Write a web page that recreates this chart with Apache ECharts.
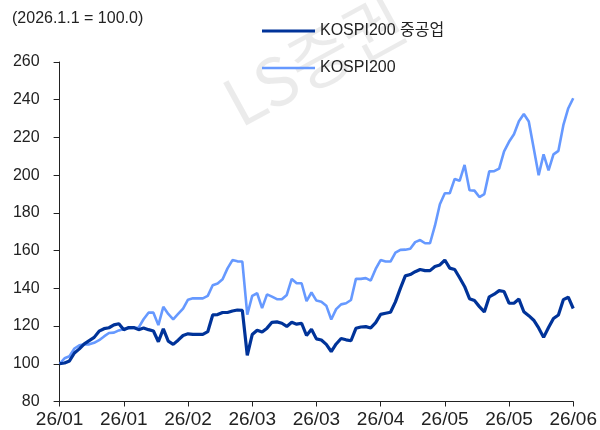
<!DOCTYPE html>
<html>
<head>
<meta charset="utf-8">
<script src="https://cdn.jsdelivr.net/npm/echarts@6/dist/echarts.min.js"></script>
<style>
  html, body { margin: 0; padding: 0; background: #ffffff; }
  #main { width: 600px; height: 430px; }
</style>
</head>
<body>
<div id="main"></div>
<script>
// x축 라벨 (13거래일 간격)
var xLabels = ['26/01', '26/01', '26/02', '26/03', '26/03', '26/04', '26/05', '26/05', '26/06'];
var labelStep = 13;

// KOSPI200 중공업 (2026.1.1 = 100)
var heavyInd = [
  100, 100.4, 101.5, 105.7, 107.9, 110.6, 112.3, 114, 117.3, 118.6,
  119.1, 120.6, 121.2, 118, 119.2, 119.2, 118.1, 119, 118.1, 117.4,
  111.7, 118.5, 112, 110.3, 112.5, 115, 115.9, 115.6, 115.6, 115.6,
  117, 125.9, 126.1, 127.2, 127.2, 128, 128.5, 128.3, 104.5, 115.5,
  117.8, 116.8, 118.9, 122, 122.2, 121.5, 119.8, 122, 121, 121.5,
  115, 118.3, 113.2, 112.6, 110.3, 106.5, 110.5, 113.4, 112.7, 112.2,
  118.8, 119.5, 119.7, 119, 121.8, 126.2, 126.8, 127.3, 132.8, 140,
  146.6, 147.3, 148.8, 150, 149.4, 149.4, 151.6, 152.4, 155, 150.7,
  150, 145.6, 141, 134.5, 133.5, 130.3, 127.5, 135.5, 136.9, 138.8,
  138.3, 132.1, 132.1, 134.3, 127.6, 125.5, 123.1, 119, 114, 119.2,
  124, 125.9, 134, 135.3, 129.3
];

// KOSPI200
var kospi200 = [
  100, 102.9, 104, 108.1, 109.8, 110.3, 110.3, 111.1, 112.5, 114.5,
  116.3, 116.5, 117.7, 118.5, 118.9, 119, 119.2, 123.6, 127.1, 127.1,
  120.5, 130.2, 126.4, 123.6, 126.5, 129.3, 134, 134.7, 134.7, 134.7,
  136, 141.6, 142.6, 144.8, 150.6, 155, 154.3, 154.2, 126, 136,
  137.4, 129.5, 136.8, 135.6, 134.3, 134.2, 136.5, 145, 142.7, 142.7,
  133.2, 137.8, 133.5, 132.9, 130.8, 123.5, 129, 131.5, 132.1, 133.8,
  145, 145, 145.4, 144.1, 150.3, 155, 154.2, 154.2, 158.9, 160.4,
  160.5, 161, 164.5, 165.6, 163.9, 163.9, 173.2, 184.6, 190.4, 190.4,
  198, 197, 205.4, 192, 191.8, 188.4, 190, 202, 202.1, 203.5,
  212.6, 217.7, 221.7, 228.6, 232.4, 228.5, 214.3, 200, 211, 202.6,
  211, 212.9, 226.5, 235.5, 240.8
];

var days = heavyInd.map(function (v, i) { return i; });

var chartDom = document.getElementById('main');
var myChart = echarts.init(chartDom, null, { renderer: 'canvas' });
var option;

var baseFont = "'Liberation Sans', 'Noto Sans CJK KR', sans-serif";

option = {
  backgroundColor: '#ffffff',
  animation: false,
  textStyle: { fontFamily: baseFont },
  graphic: [
    {
      // 워터마크
      type: 'text',
      x: 314,
      y: 60,
      z: -1,
      silent: true,
      rotation: 0.5,
      style: {
        text: 'LS증권',
        fill: 'rgba(0,0,0,0.08)',
        align: 'center',
        verticalAlign: 'middle',
        font: "66px 'Noto Sans CJK KR', sans-serif"
      }
    },
    {
      type: 'text',
      left: 12,
      top: 11,
      style: {
        text: '(2026.1.1 = 100.0)',
        fill: '#222',
        font: "16px 'Liberation Sans', sans-serif"
      }
    }
  ],
  legend: {
    orient: 'vertical',
    left: 262,
    top: 23,
    padding: 0,
    itemWidth: 53,
    itemHeight: 14,
    itemGap: 21,
    textStyle: { fontSize: 16, color: '#222', fontFamily: baseFont },
    data: [
      { name: 'KOSPI200 중공업', icon: 'path://M0,0h53v3.2h-53z' },
      { name: 'KOSPI200', icon: 'path://M0,0h53v2.6h-53z' }
    ]
  },
  grid: {
    left: 59.6,
    right: 20.9,
    top: 62,
    bottom: 28.5,
    containLabel: false
  },
  xAxis: {
    type: 'category',
    boundaryGap: false,
    data: days,
    axisLine: { lineStyle: { color: '#222', width: 1 } },
    axisTick: { interval: labelStep - 1, length: 5, lineStyle: { color: '#222' } },
    axisLabel: {
      interval: labelStep - 1,
      margin: 9,
      fontSize: 19,
      color: '#222',
      fontFamily: "'Liberation Sans Narrow', 'Liberation Sans', sans-serif",
      formatter: function (value, index) {
        return xLabels[Math.round(index / labelStep)] || '';
      }
    },
    splitLine: { show: false }
  },
  yAxis: {
    type: 'value',
    min: 80,
    max: 260,
    interval: 20,
    axisLine: { show: true, lineStyle: { color: '#222', width: 1 } },
    axisTick: { show: true, length: 6, lineStyle: { color: '#222' } },
    axisLabel: { fontSize: 16, color: '#222', margin: 20 },
    splitLine: { show: false }
  },
  series: [
    {
      name: 'KOSPI200 중공업',
      type: 'line',
      data: heavyInd,
      symbol: 'none',
      z: 3,
      lineStyle: { color: '#003399', width: 3.2 },
      itemStyle: { color: '#003399' }
    },
    {
      name: 'KOSPI200',
      type: 'line',
      data: kospi200,
      symbol: 'none',
      z: 2,
      lineStyle: { color: '#6699ff', width: 2.6 },
      itemStyle: { color: '#6699ff' }
    }
  ]
};

option && myChart.setOption(option);
</script>
</body>
</html>
